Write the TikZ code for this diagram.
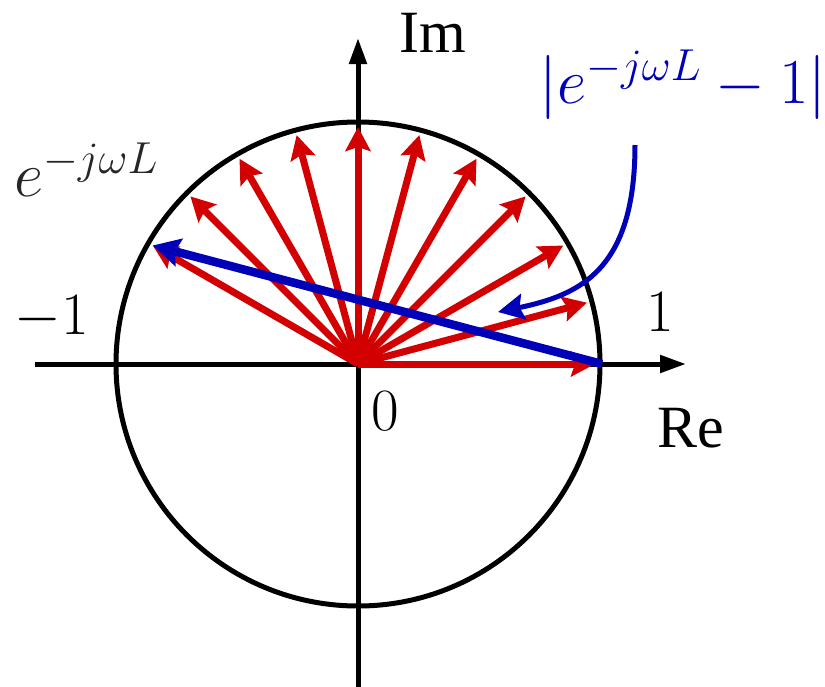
\RequirePackage{fix-cm}
\documentclass[tikz,border=0pt]{standalone}
\usepackage[no-math]{fontspec}
\setmainfont{Liberation Serif}
\usetikzlibrary{arrows.meta}
\definecolor{myred}{RGB}{210,0,0}
\definecolor{myblue}{RGB}{0,0,185}
\begin{document}
\begin{tikzpicture}[x=1pt,y=-1pt,
  axis/.style={line width=5pt, -{Triangle[length=26pt,width=17pt]}},
  rim/.style={line width=5pt},
  phasor/.style={myred, line width=7pt, -{Stealth[length=24pt,width=25pt,inset=4pt]}},
  diff/.style={myblue, line width=8.5pt, -{Stealth[length=27pt,width=28pt,inset=4pt]}},
  pointer/.style={myblue, line width=5pt, -{Stealth[length=26pt,width=26pt,inset=4pt]}},
  lbl/.style={inner sep=0pt},
  big/.style={font=\fontsize{60}{60}\selectfont},
  bigm/.style={font=\fontsize{64}{64}\selectfont}]
\useasboundingbox (0,0) rectangle (825,686);
\coordinate (O) at (358,364);
\coordinate (xl) at (35,364);
\coordinate (xr) at (686,364);
\coordinate (yb) at (358,690);
\coordinate (yt) at (358,38);
\draw[rim] (O) circle[radius=242];
\draw[axis] (xl) -- (xr);
\draw[axis] (yb) -- (yt);
\foreach \a in {0,15,...,150} \draw[phasor] (O) -- ++(-\a:237) coordinate (t\a);
\path (O) ++(244,0) coordinate (P1);
\draw[diff] (P1) -- (t150);
\coordinate (cs) at (635,145);
\coordinate (ce) at (498,312);
\draw[pointer] (cs) .. controls (635,270) and (580,295) .. (ce);
\node[lbl,big] (im) at (433,33) {Im};
\node[lbl,big] (re) at (691,428) {Re};
\node[lbl,big] (zero) at (385,411) {$0$};
\node[lbl,big] (one) at (660,312) {$1$};
\node[lbl,big] (mone) at (52,318) {$-1$};
\node[lbl,bigm,text=black!85] (ez) at (86,170) {$e^{-j\omega L}$};
\node[lbl,bigm,text=myblue] (mag) at (683,85) {$\bigl|e^{-j\omega L}-1\bigr|$};
\end{tikzpicture}
\end{document}
